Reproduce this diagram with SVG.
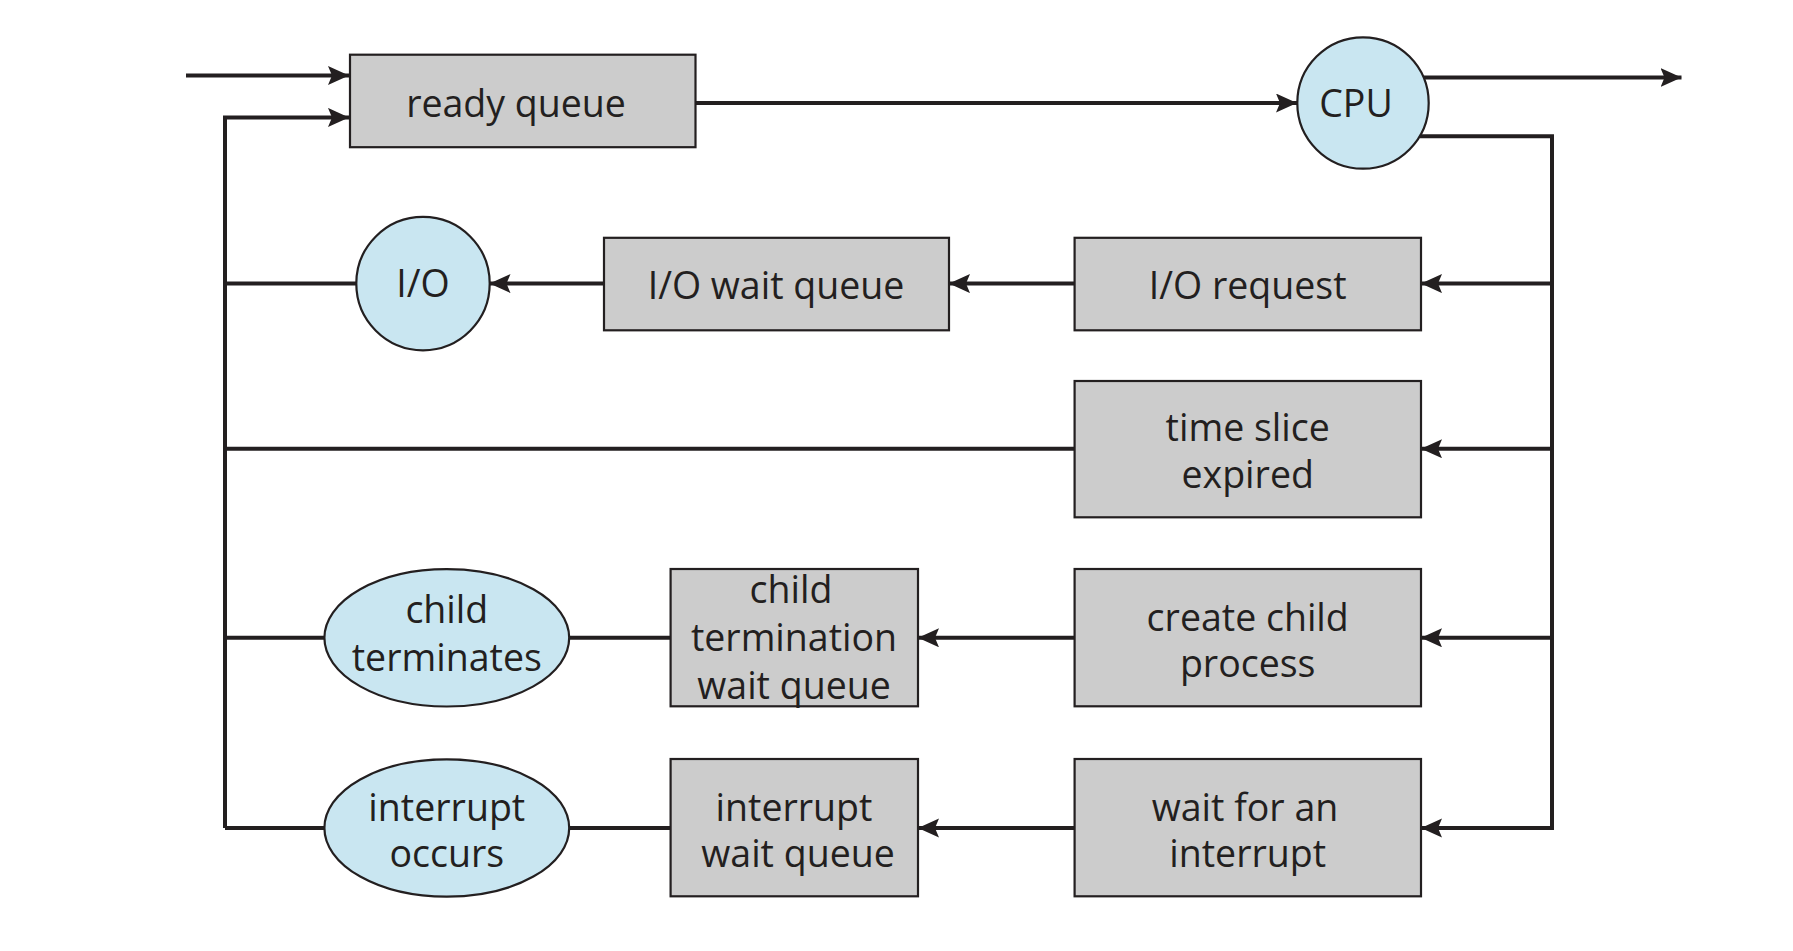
<svg xmlns="http://www.w3.org/2000/svg" width="1793" height="951" viewBox="0 0 1793 951">
<style>
.box{fill:#cccccc;stroke:#231f20;stroke-width:2.2}
.cir{fill:#c9e6f1;stroke:#231f20;stroke-width:2.2}
.ln{fill:none;stroke:#231f20;stroke-width:4}
text{font-family:"Open Sans","Noto Sans","DejaVu Sans",sans-serif;font-size:37.5px;fill:#231f20;text-anchor:middle}
</style>
<defs>
<marker id="ah" markerUnits="userSpaceOnUse" markerWidth="24" markerHeight="20" refX="21" refY="9.5" orient="auto">
<path d="M0,0 L21,9.5 L0,19 L4,9.5 z" fill="#231f20"/>
</marker>
</defs>
<rect width="1793" height="951" fill="#ffffff"/>
<g id="connectors">
<path class="ln" d="M186,75.6 H349" marker-end="url(#ah)"/>
<path class="ln" d="M225,828 V117.4 H349" marker-end="url(#ah)"/>
<path class="ln" d="M695.5,103 H1297" marker-end="url(#ah)"/>
<path class="ln" d="M1424,77.6 H1681.5" marker-end="url(#ah)"/>
<path class="ln" d="M1420,136.3 H1552 V828 H1421" marker-end="url(#ah)"/>
<path class="ln" d="M1552,283.6 H1421" marker-end="url(#ah)"/>
<path class="ln" d="M1552,448.7 H1421" marker-end="url(#ah)"/>
<path class="ln" d="M1552,637.8 H1421" marker-end="url(#ah)"/>
<path class="ln" d="M1074.6,283.6 H949" marker-end="url(#ah)"/>
<path class="ln" d="M604,283.6 H489.5" marker-end="url(#ah)"/>
<path class="ln" d="M356,283.6 H225"/>
<path class="ln" d="M1074.6,448.7 H225"/>
<path class="ln" d="M1074.6,637.8 H918" marker-end="url(#ah)"/>
<path class="ln" d="M670.6,637.8 H569"/>
<path class="ln" d="M324.4,637.8 H225"/>
<path class="ln" d="M1074.6,828 H918" marker-end="url(#ah)"/>
<path class="ln" d="M670.6,828 H569"/>
<path class="ln" d="M324.4,828 H225"/>
</g>
<g id="ready-queue">
<rect class="box" x="350" y="54.7" width="345.5" height="92.5"/>
<text x="516" y="117">ready queue</text>
</g>
<g id="cpu">
<circle class="cir" cx="1363" cy="103" r="65.7"/>
<text x="1356" y="117">CPU</text>
</g>
<g id="io-request">
<rect class="box" x="1074.6" y="237.8" width="346.4" height="92.5"/>
<text x="1247.7" y="299">I/O request</text>
</g>
<g id="io-wait-queue">
<rect class="box" x="604" y="237.8" width="345" height="92.5"/>
<text x="776" y="299">I/O wait queue</text>
</g>
<g id="io">
<circle class="cir" cx="423" cy="283.6" r="66.7"/>
<text x="423" y="297">I/O</text>
</g>
<g id="time-slice">
<rect class="box" x="1074.6" y="381" width="346.4" height="136.3"/>
<text x="1247.7" y="441">time slice</text>
<text x="1247.7" y="488">expired</text>
</g>
<g id="create-child">
<rect class="box" x="1074.6" y="569" width="346.4" height="137.3"/>
<text x="1247.7" y="630.5">create child</text>
<text x="1247.7" y="677">process</text>
</g>
<g id="child-wait-queue">
<rect class="box" x="670.6" y="569" width="247.4" height="137.3"/>
<text x="791" y="603">child</text>
<text x="794" y="651">termination</text>
<text x="794" y="699">wait queue</text>
</g>
<g id="child-terminates">
<ellipse class="cir" cx="446.8" cy="637.8" rx="122.4" ry="68.7"/>
<text x="446.8" y="622.5">child</text>
<text x="446.8" y="671">terminates</text>
</g>
<g id="wait-interrupt">
<rect class="box" x="1074.6" y="759" width="346.4" height="137.3"/>
<text x="1245" y="820.5">wait for an</text>
<text x="1247.7" y="867">interrupt</text>
</g>
<g id="interrupt-wait-queue">
<rect class="box" x="670.6" y="759" width="247.4" height="137.3"/>
<text x="794" y="820.5">interrupt</text>
<text x="798" y="867">wait queue</text>
</g>
<g id="interrupt-occurs">
<ellipse class="cir" cx="446.8" cy="828" rx="122.4" ry="68.7"/>
<text x="446.8" y="820.5">interrupt</text>
<text x="446.8" y="867">occurs</text>
</g>
</svg>
